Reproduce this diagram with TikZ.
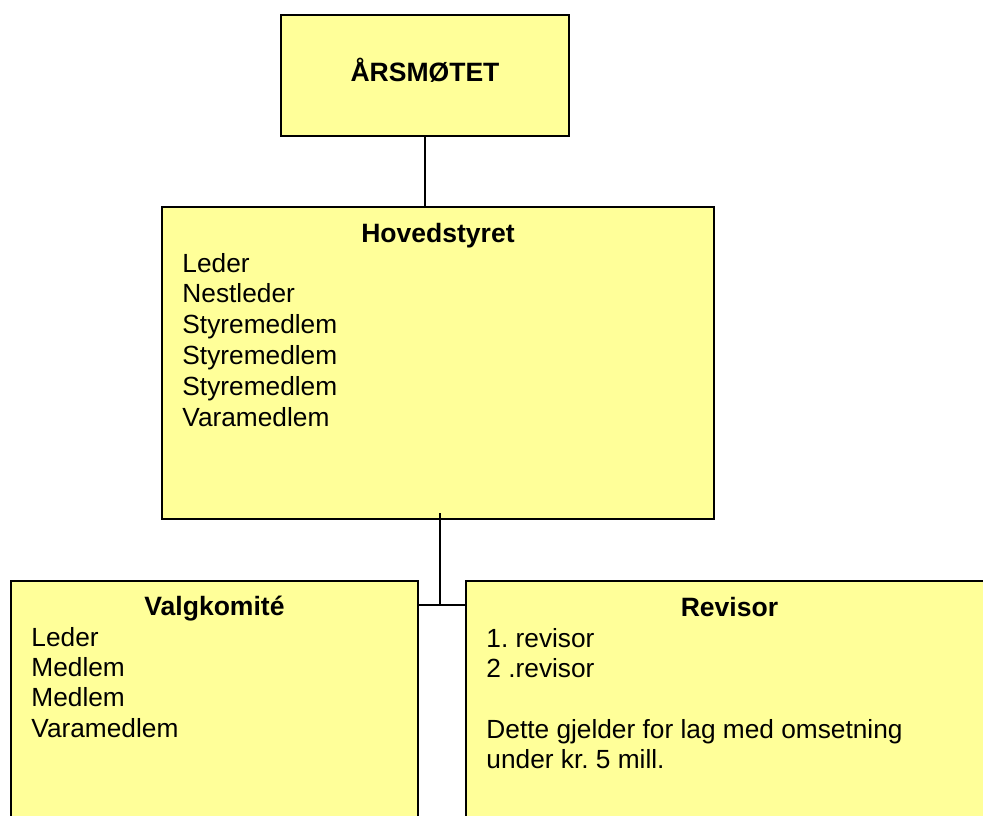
\documentclass[tikz,border=0pt]{standalone}
\usepackage{fontspec}
\setmainfont{Liberation Sans}
\usetikzlibrary{calc,positioning}
\definecolor{boxfill}{HTML}{FFFF99}
\frenchspacing

\begin{document}
\begin{tikzpicture}[x=0.75pt, y=-0.75pt,
  font=\fontsize{19.7}{22.9}\selectfont,
  orgbox/.style={draw, line width=1.2pt, fill=boxfill, inner sep=0pt},
  title/.style={font=\fontsize{19.9}{22.9}\selectfont\bfseries, anchor=base, inner sep=0pt},
  item/.style={anchor=base west, inner sep=0pt},
  link/.style={line width=0.9pt}]
\useasboundingbox (0,0) rectangle (983,816);
\clip (0,0) rectangle (983,816);
\def\px{0.75pt}
\newcommand{\obox}[4]{\node [orgbox, minimum width=#3*\px, minimum height=#4*\px] (#1) at (#2) {}}

\obox{aars}{425,75.5}{288}{121};
\obox{hoved}{438,363}{552}{312};
\obox{valg}{214.5,710.5}{407}{259};
\obox{rev}{729.5,710.5}{527}{259};

\node [title] (aarsT) at ($(aars.north)+(0,67)$) {ÅRSMØTET};
\node [title] (hovedT) at ($(hoved.north)+(0,36)$) {Hovedstyret};
\node [title] (valgT) at ($(valg.north)+(0,35)$) {Valgkomité};
\node [title] (revT) at ($(rev.north)+(0,36)$) {Revisor};

\foreach \t [count=\i from 0] in {Leder, Nestleder, Styremedlem, Styremedlem, Styremedlem, Varamedlem}
  \node [item] (hoved\i) at ($(hoved.north west)+(21,{66+30.8*\i})$) {\t};
\foreach \t [count=\i from 0] in {Leder, Medlem, Medlem, Varamedlem}
  \node [item] (valg\i) at ($(valg.north west)+(21,{66+30.4*\i})$) {\t};
\foreach \i/\t in {0/{1. revisor}, 1/{2 .revisor}, 3/{Dette gjelder for lag med omsetning}, 4/{under kr. 5 mill.}}
  \node [item] (rev\i) at ($(rev.north west)+(21,{67+30.3*\i})$) {\t};

% connectors
\draw [link] (aars.south) -- (aars.south |- hoved.north);
\coordinate (tee) at (440,605);
\draw [link] (tee) -- ($(tee |- hoved.south)+(0,-7)$);
\draw [link] (tee -| valg.east) -- (tee -| rev.west);
\end{tikzpicture}
\end{document}
